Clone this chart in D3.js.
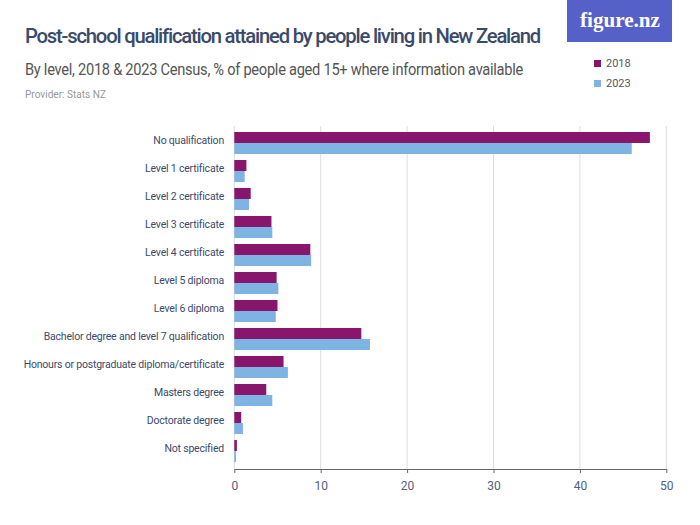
<!DOCTYPE html>
<html><head><meta charset="utf-8">
<script src="https://cdn.jsdelivr.net/npm/d3@7"></script>
<style>body{margin:0;background:#fff}svg{display:block}</style>
</head><body>
<script>
const categories = ["No qualification","Level 1 certificate","Level 2 certificate","Level 3 certificate","Level 4 certificate","Level 5 diploma","Level 6 diploma","Bachelor degree and level 7 qualification","Honours or postgraduate diploma/certificate","Masters degree","Doctorate degree","Not specified"];
const values2018 = [48.1,1.4,1.9,4.3,8.8,4.9,5.0,14.7,5.7,3.7,0.8,0.3];
const values2023 = [46.0,1.2,1.7,4.4,8.9,5.1,4.8,15.7,6.2,4.4,1.0,0.2];
const seriesNames = ["2018","2023"];
const xTicks = [0,10,20,30,40,50];

const W=700,H=525;
const colors = {"2018":"#88166d","2023":"#7db4e3"};
const textCol = "#3a4a6b";
const font = "Roboto, 'Liberation Sans', sans-serif";
const svg = d3.select("body").append("svg").attr("width",W).attr("height",H);

// header
svg.append("text").attr("x",25).attr("y",43).text("Post-school qualification attained by people living in New Zealand")
  .attr("font-family",font).attr("font-size",20).attr("font-weight",500).attr("fill",textCol)
  .attr("letter-spacing",-1.2)
  .attr("textLength",515).attr("lengthAdjust","spacingAndGlyphs");
svg.append("text").attr("x",25).attr("y",75).text("By level, 2018 & 2023 Census, % of people aged 15+ where information available")
  .attr("font-family",font).attr("font-size",16).attr("fill","#555").attr("letter-spacing",-0.3)
  .attr("textLength",498).attr("lengthAdjust","spacingAndGlyphs");
svg.append("text").attr("x",25).attr("y",98).text("Provider: Stats NZ")
  .attr("font-family",font).attr("font-size",10).attr("fill","#999").attr("textLength",81).attr("lengthAdjust","spacingAndGlyphs");

// logo
svg.append("rect").attr("x",567).attr("y",0).attr("width",105).attr("height",42).attr("fill","#5660c9");
svg.append("text").attr("x",580).attr("y",27).text("figure.nz").attr("font-family","'Liberation Serif', 'DejaVu Serif', serif")
  .attr("font-size",22).attr("font-weight","bold").attr("fill","#fff").attr("textLength",80).attr("lengthAdjust","spacingAndGlyphs");

// legend
const leg = svg.append("g");
seriesNames.forEach((s,i)=>{
  leg.append("rect").attr("x",594).attr("y",60+i*20).attr("width",7).attr("height",7).attr("fill",colors[s]);
  leg.append("text").attr("x",606).attr("y",67+i*20).text(s).attr("font-family",font).attr("font-size",11).attr("fill","#555");
});

// scales
const x = d3.scaleLinear().domain([0,50]).range([234.3,666.3]);
const y = d3.scaleBand().domain(categories).range([129,465]).paddingInner(6/28).paddingOuter(3/28);
const y1 = d3.scaleBand().domain(seriesNames).range([0,y.bandwidth()]);

// grid
svg.append("g").selectAll("line").data(xTicks).join("line")
  .attr("x1",d=>x(d)).attr("x2",d=>x(d)).attr("y1",126).attr("y2",469)
  .attr("stroke","#ddd").attr("stroke-width",1);

// bars
const rows = categories.map((c,i)=>({c, vals:[{s:"2018",v:values2018[i]},{s:"2023",v:values2023[i]}]}));
const g = svg.append("g");
g.selectAll("g").data(rows).join("g").attr("transform",d=>`translate(0,${y(d.c)})`)
  .selectAll("rect").data(d=>d.vals).join("rect")
  .attr("x",x(0)).attr("y",d=>y1(d.s)).attr("height",y1.bandwidth()).attr("width",d=>x(d.v)-x(0))
  .attr("fill",d=>colors[d.s]);

// category labels
svg.append("g").selectAll("text").data(categories).join("text")
  .attr("x",224).attr("y",d=>y(d)+y.bandwidth()/2-2).attr("text-anchor","end").attr("dominant-baseline","middle")
  .attr("font-family",font).attr("font-size",10.5).attr("fill",textCol).attr("letter-spacing",-0.2).text(d=>d);

// x axis
const ax = svg.append("g").attr("transform","translate(0,469)").call(d3.axisBottom(x).tickValues(xTicks).tickSize(4).tickSizeOuter(0));
ax.select(".domain").attr("stroke","#666");
ax.selectAll(".tick line").attr("stroke","#666");
ax.selectAll(".tick text").attr("font-family",font).attr("font-size",12).attr("fill","#55607f").attr("dy","1.2em");
</script>
</body></html>
